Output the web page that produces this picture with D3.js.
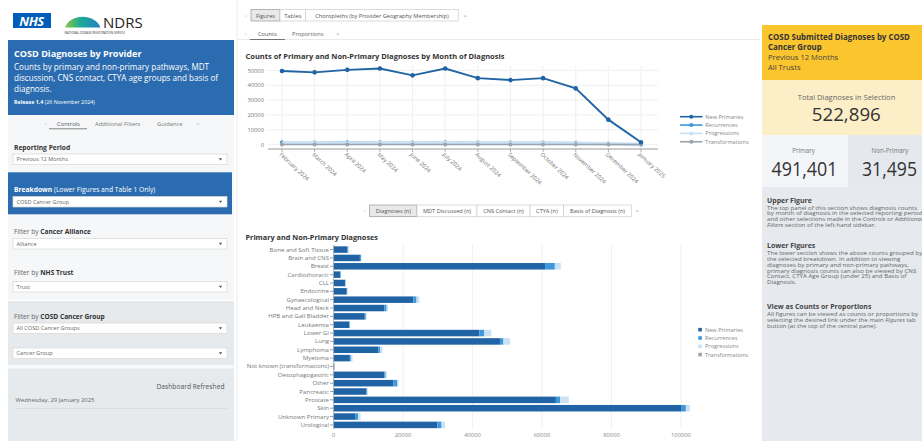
<!DOCTYPE html>
<html><head><meta charset="utf-8">
<script src="https://cdn.jsdelivr.net/npm/d3@7"></script>
<style>
html,body{margin:0;padding:0;background:#fff;overflow:hidden;}
svg{display:block;font-family:"Open Sans",Lato,sans-serif;}
</style></head><body>
<script>
// ---------- DATA ----------
const months = ["February 2024","March 2024","April 2024","May 2024","June 2024","July 2024","August 2024","September 2024","October 2024","November 2024","December 2024","January 2025"];
const newPrimaries    = [49600, 48700, 50400, 51300, 46700, 51300, 44800, 43500, 44800, 37900, 16800, 1600];
const recurrences     = [1500, 1450, 1550, 1600, 1450, 1550, 1450, 1400, 1450, 1250, 650, 80];
const progressions    = [1100, 1050, 1100, 1150, 1050, 1150, 1050, 1000, 1050, 900, 480, 60];
const transformations = [40, 40, 45, 45, 40, 45, 40, 40, 40, 35, 20, 5];
const topYTicks = [0, 10000, 20000, 30000, 40000, 50000];

const categories = ["Bone and Soft Tissue","Brain and CNS","Breast","Cardiothoracic","CLL","Endocrine","Gynaecological","Head and Neck","HPB and Gall Bladder","Leukaemia","Lower GI","Lung","Lymphoma","Myeloma","Not known (transformations)","Oesophagogastric","Other","Pancreatic","Prostate","Skin","Unknown Primary","Urological"];
const catNewPrimaries    = [4000, 7600, 60900, 2000, 3300, 3800, 23000, 14600, 9000, 4500, 42000, 47900, 12900, 4700, 0, 14600, 17200, 9500, 64000, 100200, 6200, 29900];
const catRecurrences     = [250, 300, 2800, 100, 150, 150, 900, 700, 300, 200, 1400, 1000, 500, 300, 0, 400, 1200, 200, 1200, 1200, 900, 1200];
const catProgressions    = [150, 200, 1700, 50, 100, 100, 800, 400, 200, 100, 2000, 1900, 700, 500, 0, 400, 300, 150, 2500, 1200, 700, 1000];
const catTransformations = [0, 0, 0, 0, 0, 0, 0, 0, 0, 0, 0, 0, 0, 0, 350, 0, 0, 0, 0, 0, 0, 0];
const bottomXTicks = [0, 20000, 40000, 60000, 80000, 100000];

const seriesNames  = ["New Primaries","Recurrences","Progressions","Transformations"];
const seriesColors = ["#2164a5","#3c97dc","#c9e1f5","#9aa4ae"];

const totalDiagnoses = 522896;
const primaryDiagnoses = 491401;
const nonPrimaryDiagnoses = 31495;

// ---------- HELPERS ----------
const svg = d3.select("body").append("svg").attr("width",922).attr("height",441);
const defs = svg.append("defs");
function T(g,x,y,s,size,o={}){
  const t=g.append("text").attr("x",x).attr("y",y).attr("font-size",size)
    .attr("fill",o.fill||"#444").text(s);
  if(o.anchor) t.attr("text-anchor",o.anchor);
  if(o.weight) t.attr("font-weight",o.weight);
  if(o.style) t.attr("font-style",o.style);
  if(o.len) t.attr("textLength",o.len).attr("lengthAdjust","spacingAndGlyphs");
  return t;
}
function RT(g,x,y,parts,size,fill){
  const t=g.append("text").attr("x",x).attr("y",y).attr("font-size",size).attr("fill",fill||"#444");
  parts.forEach(p=>{
    const s=t.append("tspan").text(p[0]);
    if(p[1]==="b") s.attr("font-weight","bold");
    if(p[1]==="i") s.attr("font-style","italic");
    if(p[2]) s.attr("fill",p[2]);
  });
  return t;
}
function R(g,x,y,w,h,fill,stroke,sw){
  const r=g.append("rect").attr("x",x).attr("y",y).attr("width",w).attr("height",h).attr("fill",fill);
  if(stroke) r.attr("stroke",stroke).attr("stroke-width",sw||0.8);
  return r;
}
function dropdown(g,y,label){
  R(g,13,y,214,10.5,"#fff","#d8d8d8",0.7);
  T(g,16.5,y+7.3,label,5.6,{fill:"#666"});
  g.append("path").attr("d",`M218.8,${y+4.3}L222.2,${y+4.3}L220.5,${y+6.6}Z`).attr("fill","#555");
}

// ---------- LEFT SIDEBAR ----------
const L = svg.append("g");
R(L,13,13,38,15,"#005eb8");
T(L,31.5,25.6,"NHS",13,{fill:"#fff",weight:"bold",style:"italic",anchor:"middle"}).attr("letter-spacing",-0.5);
const grad = defs.append("linearGradient").attr("id","ndrsGrad").attr("x1","0").attr("x2","1");
grad.append("stop").attr("offset","0").attr("stop-color","#8cc63f");
grad.append("stop").attr("offset","0.45").attr("stop-color","#19a99a");
grad.append("stop").attr("offset","1").attr("stop-color","#2a7cc4");
L.append("path").attr("d","M65,27.5 C70,13 95,13 100.5,27.5 Z").attr("fill","url(#ndrsGrad)");
T(L,103,27.5,"NDRS",15,{fill:"#222"});
T(L,64.5,34.2,"NATIONAL DISEASE REGISTRATION SERVICE",3,{fill:"#333"});

R(L,8,40,226,75,"#2b6cb0");
T(L,14,57,"COSD Diagnoses by Provider",9.1,{fill:"#fff",weight:"bold"});
T(L,14,69.5,"Counts by primary and non-primary pathways, MDT",8.1,{fill:"#fff"});
T(L,14,80.5,"discussion, CNS contact, CTYA age groups and basis of",8.1,{fill:"#fff"});
T(L,14,91.5,"diagnosis.",8.1,{fill:"#fff"});
RT(L,14,104,[["Release 1.4","b"],[" (26 November 2024)"]],5.3,"#fff");

R(L,8,115,226,185,"#f6f7f8");
T(L,44,126.3,"<",6,{fill:"#bbb"});
T(L,57,126.3,"Controls",5.8,{fill:"#555"});
T(L,95,126.3,"Additional Filters",5.8,{fill:"#777"});
T(L,157,126.3,"Guidance",5.8,{fill:"#777"});
T(L,196,126.3,">",6,{fill:"#999"});
L.append("line").attr("x1",49).attr("x2",87).attr("y1",128.8).attr("y2",128.8).attr("stroke","#666").attr("stroke-width",0.8);

T(L,14,149.5,"Reporting Period",6.7,{fill:"#333",weight:"bold"});
dropdown(L,154,"Previous 12 Months");

R(L,8,172.3,224,42,"#2b6cb0");
RT(L,14,191.5,[["Breakdown","b"],[" (Lower Figures and Table 1 Only)"]],6.7,"#fff");
dropdown(L,196.5,"COSD Cancer Group");

RT(L,14,234,[["Filter by "],["Cancer Alliance","b","#333"]],6.6,"#666");
dropdown(L,238.5,"Alliance");
RT(L,14,274.7,[["Filter by "],["NHS Trust","b","#333"]],6.6,"#666");
dropdown(L,281.5,"Trust");

R(L,8,301,226,140,"#e7eaed");
RT(L,14,318.5,[["Filter by "],["COSD Cancer Group","b","#333"]],6.6,"#666");
dropdown(L,323,"All COSD Cancer Groups");
dropdown(L,348,"Cancer Group");
R(L,8,365,226,3.5,"#f7f8f9");
T(L,224.5,388.5,"Dashboard Refreshed",6.7,{fill:"#555",anchor:"end"});
T(L,15.5,402,"Wednesday, 29 January 2025",5.9,{fill:"#666"});
L.append("line").attr("x1",15).attr("x2",227).attr("y1",408.5).attr("y2",408.5).attr("stroke","#d6d9dc").attr("stroke-width",0.8);

svg.append("line").attr("x1",237).attr("x2",237).attr("y1",0).attr("y2",441).attr("stroke","#ececec");

// ---------- MIDDLE PANEL ----------
const M = svg.append("g");
T(M,244,18,"<",6,{fill:"#ccc"});
R(M,251,9.5,29,11.5,"#e9e9e9","#999",0.7);
T(M,265.5,17.6,"Figures",5.7,{fill:"#555",anchor:"middle"});
R(M,280,9.5,25.7,11.5,"#fff","#ccc",0.7);
T(M,292.8,17.6,"Tables",5.7,{fill:"#555",anchor:"middle"});
R(M,305.7,9.5,152.5,11.5,"#fff","#ccc",0.7);
T(M,382,17.6,"Choropleths (by Provider Geography Membership)",5.7,{fill:"#555",anchor:"middle"});
T(M,463.5,17.8,">",6,{fill:"#888"});

T(M,244,36.3,"<",6,{fill:"#ccc"});
T(M,258,36.3,"Counts",5.7,{fill:"#555"});
T(M,292,36.3,"Proportions",5.7,{fill:"#666"});
T(M,336,36.3,">",6,{fill:"#888"});
M.append("line").attr("x1",238).attr("x2",760).attr("y1",39.5).attr("y2",39.5).attr("stroke","#e3e3e3").attr("stroke-width",0.8);
M.append("line").attr("x1",250).attr("x2",285).attr("y1",39.5).attr("y2",39.5).attr("stroke","#666").attr("stroke-width",0.9);

T(M,245.5,59,"Counts of Primary and Non-Primary Diagnoses by Month of Diagnosis",7.5,{fill:"#333",weight:"bold"});

// top line chart
const xT = d3.scalePoint().domain(months).range([282,641]);
const yT = d3.scaleLinear().domain([-3000,53000]).range([149,66]);
const gT = M.append("g");
gT.selectAll(".hg").data(topYTicks).join("line")
  .attr("x1",268).attr("x2",658).attr("y1",d=>yT(d)).attr("y2",d=>yT(d))
  .attr("stroke","#ececec").attr("stroke-width",0.8);
gT.selectAll(".vg").data(months).join("line")
  .attr("x1",d=>xT(d)).attr("x2",d=>xT(d)).attr("y1",66).attr("y2",149)
  .attr("stroke","#ececec").attr("stroke-width",0.8);
gT.selectAll(".yl").data(topYTicks).join("text")
  .attr("x",264).attr("y",d=>yT(d)+2.1).attr("text-anchor","end")
  .attr("font-size",5.8).attr("fill","#777").text(d=>d);
gT.append("line").attr("x1",268).attr("x2",658).attr("y1",149).attr("y2",149).attr("stroke","#9a9a9a").attr("stroke-width",1.1);
gT.selectAll(".tk").data(months).join("line")
  .attr("x1",d=>xT(d)).attr("x2",d=>xT(d)).attr("y1",149).attr("y2",152)
  .attr("stroke","#9a9a9a").attr("stroke-width",0.8);
gT.selectAll(".xl").data(months).join("text")
  .attr("transform",d=>`translate(${xT(d)-3},155) rotate(43)`)
  .attr("font-size",5.7).attr("fill","#777").text(d=>d);

const topSeries = [recurrences, progressions, transformations, newPrimaries];
const topIdx = [1,2,3,0];
const lineGen = d3.line().x((d,i)=>xT(months[i])).y(d=>yT(d));
topSeries.forEach((vals,k)=>{
  const c = seriesColors[topIdx[k]];
  const w = topIdx[k]===2 ? 3.5 : (topIdx[k]===0 ? 1.9 : 1.4);
  gT.append("path").datum(vals).attr("d",lineGen).attr("fill","none").attr("stroke",c).attr("stroke-width",w);
  if(topIdx[k]!==2){
    gT.selectAll(null).data(vals).join("circle")
      .attr("cx",(d,i)=>xT(months[i])).attr("cy",d=>yT(d)).attr("r",topIdx[k]===0?2.3:2).attr("fill",c);
  }
});

// top legend
const legT = M.append("g");
seriesNames.forEach((n,i)=>{
  const y = 116.7 + i*8.35;
  legT.append("line").attr("x1",680).attr("x2",702.5).attr("y1",y).attr("y2",y).attr("stroke",seriesColors[i]).attr("stroke-width",1.6);
  legT.append("circle").attr("cx",691.3).attr("cy",y).attr("r",2).attr("fill",seriesColors[i]);
  T(legT,705.3,y+2,n,5.6,{fill:"#888"});
});

// second tab row
T(M,363,213,"<",6,{fill:"#ccc"});
const tabs2 = [["Diagnoses (n)",369.7,417],["MDT Discussed (n)",417,477],["CNS Contact (n)",477,530],["CTYA (n)",530,563.7],["Basis of Diagnosis (n)",563.7,631.3]];
tabs2.forEach((t,i)=>{
  R(M,t[1],205,t[2]-t[1],11.7,i===0?"#e9e9e9":"#fff",i===0?"#999":"#ccc",0.7);
  T(M,(t[1]+t[2])/2,213.2,t[0],5.6,{fill:"#555",anchor:"middle"});
});
T(M,635.5,213,">",6,{fill:"#888"});

T(M,245.5,239.7,"Primary and Non-Primary Diagnoses",7.3,{fill:"#333",weight:"bold"});

// bottom bar chart
const yB = d3.scaleBand().domain(categories).range([245.5,429]).paddingInner(0.22).paddingOuter(0.1);
const xB = d3.scaleLinear().domain([0,100000]).range([333.5,681]);
const gB = M.append("g");
gB.selectAll(".vg").data(bottomXTicks.slice(1)).join("line")
  .attr("x1",d=>xB(d)).attr("x2",d=>xB(d)).attr("y1",244).attr("y2",429)
  .attr("stroke","#ececec").attr("stroke-width",0.8);
gB.selectAll(".xl").data(bottomXTicks).join("text")
  .attr("x",d=>xB(d)).attr("y",436.6).attr("text-anchor","middle")
  .attr("font-size",5.8).attr("fill","#888").text(d=>d);
const rows = categories.map((c,i)=>({cat:c, "New Primaries":catNewPrimaries[i], "Recurrences":catRecurrences[i], "Progressions":catProgressions[i], "Transformations":catTransformations[i]}));
const stacked = d3.stack().keys(seriesNames)(rows);
stacked.forEach((layer,k)=>{
  gB.selectAll(null).data(layer).join("rect")
    .attr("x",d=>xB(d[0])).attr("width",d=>Math.max(0,xB(d[1])-xB(d[0])))
    .attr("y",d=>yB(d.data.cat)).attr("height",yB.bandwidth())
    .attr("fill",seriesColors[k]);
});
gB.append("line").attr("x1",333.5).attr("x2",333.5).attr("y1",245).attr("y2",429).attr("stroke","#a8a8a8").attr("stroke-width",0.8);
gB.selectAll(".tk").data(categories).join("line")
  .attr("x1",330).attr("x2",333.5).attr("y1",d=>yB(d)+yB.bandwidth()/2).attr("y2",d=>yB(d)+yB.bandwidth()/2)
  .attr("stroke","#888").attr("stroke-width",0.8);
gB.selectAll(".yl").data(categories).join("text")
  .attr("x",329).attr("y",d=>yB(d)+yB.bandwidth()/2+2).attr("text-anchor","end")
  .attr("font-size",6.1).attr("fill","#777").text(d=>d);

const legB = M.append("g");
seriesNames.forEach((n,i)=>{
  const y = 329.7 + i*8.3;
  R(legB,698.3,y-1.8,3.6,3.6,seriesColors[i]);
  T(legB,705,y+2,n,5.6,{fill:"#888"});
});

// ---------- RIGHT PANEL ----------
const P = svg.append("g");
R(P,762,25,160,55,"#fbc52e");
T(P,768,39.5,"COSD Submitted Diagnoses by COSD",7.9,{fill:"#333",weight:"bold"});
T(P,768,49.8,"Cancer Group",7.9,{fill:"#333",weight:"bold"});
T(P,768,60,"Previous 12 Months",7.6,{fill:"#444"});
T(P,768,69.8,"All Trusts",7.6,{fill:"#444"});
R(P,762,80,160,55,"#fcefc8");
T(P,846.5,99.6,"Total Diagnoses in Selection",7.5,{fill:"#666",anchor:"middle"});
T(P,846.3,121.3,d3.format(",")(totalDiagnoses),18.6,{fill:"#333",anchor:"middle",len:69});
R(P,762,135,86,52,"#f3f5f8");
R(P,848,135,74,52,"#e5e8ec");
T(P,803.5,152.6,"Primary",6.2,{fill:"#777",anchor:"middle"});
T(P,804.5,175.6,d3.format(",")(primaryDiagnoses),19.3,{fill:"#333",anchor:"middle",len:66});
T(P,890,152.6,"Non-Primary",6.2,{fill:"#777",anchor:"middle"});
T(P,889.5,175.6,d3.format(",")(nonPrimaryDiagnoses),19.3,{fill:"#333",anchor:"middle",len:55});
R(P,762,187,160,254,"#e6e9ed");

// body text: slightly widened small type, as in the dashboard
const PB = P.append("g").attr("transform","translate(767,0) scale(1.12,1)");
const bodyFs = 5.5, bodyC="#666", headFs = 6.2;
T(PB,0,202.8,"Upper Figure",headFs,{fill:"#444",weight:"bold"});
T(PB,0,209.6,"The top panel of this section shows diagnosis counts",bodyFs,{fill:bodyC});
T(PB,0,215.4,"by month of diagnosis in the selected reporting period",bodyFs,{fill:bodyC});
RT(PB,0,221.2,[["and other selections made in the "],["Controls","i"],[" or "],["Additional","i"]],bodyFs,bodyC);
RT(PB,0,227,[["Filters","i"],[" section of the left-hand sidebar."]],bodyFs,bodyC);
T(PB,0,248.4,"Lower Figures",headFs,{fill:"#444",weight:"bold"});
["The lower section shows the above counts grouped by","the selected breakdown. In addition to viewing","diagnoses by primary and non-primary pathways,","primary diagnosis counts can also be viewed by CNS","Contact, CTYA Age Group (under 25) and Basis of","Diagnosis."].forEach((s,i)=>T(PB,0,255.1+i*5.85,s,bodyFs,{fill:bodyC}));
T(PB,0,309.2,"View as Counts or Proportions",headFs,{fill:"#444",weight:"bold"});
T(PB,0,316,"All figures can be viewed as counts or proportions by",bodyFs,{fill:bodyC});
RT(PB,0,321.8,[["selecting the desired link under the main "],["Figures","i"],[" tab"]],bodyFs,bodyC);
T(PB,0,327.6,"button (at the top of the central pane).",bodyFs,{fill:bodyC});
</script>
</body></html>
